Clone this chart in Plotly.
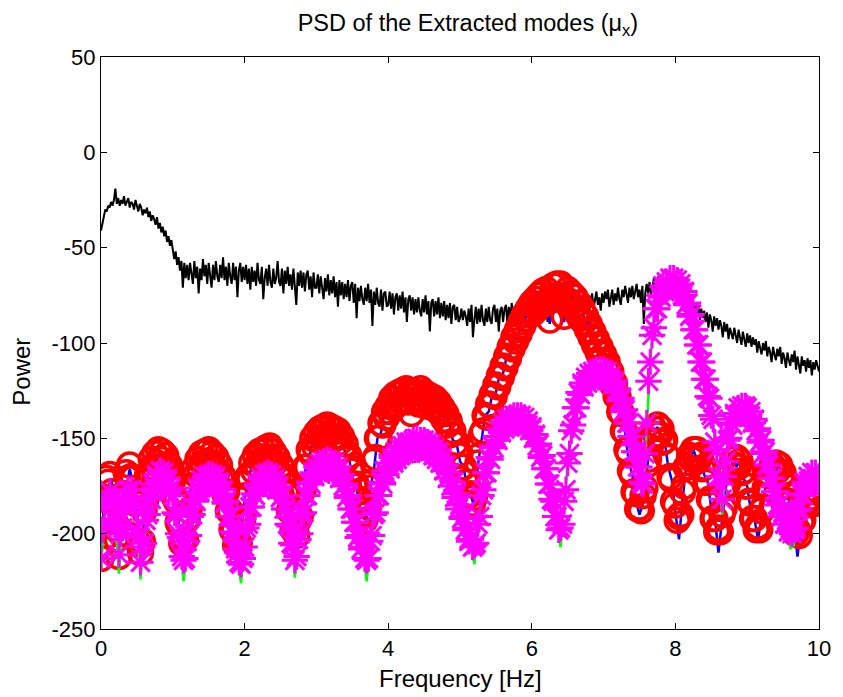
import plotly.graph_objects as go

# PSD of the measured signal (dB), one value every 0.02 Hz from 0 to 10 Hz
psd_signal = [
    -41, -37, -33, -30, -31, -28, -29, -26, -28, -25, -19, -27, -24, -28, -25, -27, -23, -28, -26, -24,
    -29, -26, -27, -30, -25, -28, -31, -27, -29, -33, -30, -32, -29, -34, -31, -36, -33, -35, -38, -34,
    -40, -37, -42, -39, -44, -41, -47, -44, -49, -46,
    -50, -56, -52, -59, -55, -62, -57, -71, -58, -66, -59, -67, -58, -64, -69, -57, -66, -60, -74, -61,
    -67, -56, -65, -59, -69, -58, -64, -71, -59, -67, -57, -65, -68, -59, -66, -55, -67, -60, -70, -58,
    -65, -69, -58, -67, -60, -76, -62, -58, -68, -60,
    -67, -59, -69, -61, -72, -60, -68, -62, -70, -58, -67, -69, -60, -77, -66, -61, -70, -59, -68, -71,
    -61, -69, -66, -57, -68, -70, -61, -74, -62, -69, -60, -70, -64, -72, -61, -69, -80, -63, -70, -62,
    -71, -63, -73, -64, -62, -72, -65, -76, -63, -71,
    -71, -64, -74, -65, -72, -77, -66, -73, -64, -75, -67, -74, -65, -76, -68, -81, -67, -75, -68, -77,
    -69, -76, -67, -78, -70, -68, -79, -69, -87, -71, -78, -70, -77, -80, -71, -78, -69, -79, -72, -91,
    -73, -80, -71, -79, -81, -72, -83, -74, -73, -81,
    -80, -73, -82, -74, -85, -76, -74, -83, -75, -82, -73, -84, -76, -89, -77, -75, -83, -76, -85, -77,
    -84, -76, -83, -86, -77, -84, -75, -85, -78, -94, -79, -77, -86, -78, -85, -76, -87, -79, -86, -78,
    -88, -80, -87, -79, -90, -81, -80, -88, -81, -89,
    -87, -82, -88, -83, -86, -91, -82, -89, -80, -97, -88, -81, -90, -82, -89, -80, -88, -91, -82, -89,
    -81, -88, -90, -82, -80, -89, -82, -94, -83, -81, -89, -82, -80, -90, -81, -88, -79, -87, -89, -80,
    -88, -81, -79, -87, -89, -80, -87, -78, -86, -88,
    -80, -86, -81, -84, -88, -79, -83, -86, -78, -84, -81, -89, -79, -83, -77, -85, -82, -76, -84, -80,
    -86, -78, -82, -77, -80, -87, -78, -82, -75, -81, -84, -77, -81, -75, -83, -79, -74, -82, -78, -88,
    -75, -80, -74, -82, -77, -73, -80, -76, -83, -74,
    -79, -73, -77, -72, -81, -75, -72, -80, -74, -78, -71, -77, -80, -72, -76, -70, -75, -79, -71, -76,
    -70, -77, -73, -69, -76, -72, -79, -70, -90, -74, -69, -74, -68, -75, -71, -66, -74, -70, -65, -73,
    -69, -64, -72, -68, -73, -66, -70, -65, -72, -68,
    -69, -74, -70, -76, -72, -78, -73, -79, -74, -81, -76, -82, -77, -85, -79, -84, -80, -88, -82, -87,
    -83, -89, -84, -92, -85, -88, -94, -86, -91, -87, -93, -88, -91, -97, -89, -94, -90, -98, -92, -95,
    -98, -92, -96, -100, -93, -97, -101, -94, -98, -102,
    -95, -100, -96, -102, -97, -101, -98, -105, -99, -103, -106, -100, -104, -99, -107, -102, -105, -110, -102, -106,
    -109, -103, -107, -102, -111, -105, -108, -113, -105, -109, -112, -106, -110, -104, -114, -107, -111, -116, -107, -112,
    -109, -115, -108, -113, -109, -117, -110, -114, -109, -113, -115,
]

# Mode 1 PSD (dB), one value every 0.025 Hz, drawn as circles
psd_mode1 = [
    -213, -194, -182, -171, -173, -169, -178, -182, -197, -203, -212, -200, -183, -179, -168, -171, -164, -170, -171, -184,
    -189, -205, -210, -204, -188, -182, -169, -170, -161, -165, -158, -163, -156, -161, -157, -164, -159, -166, -164, -173,
    -172, -181, -183, -194, -196, -205, -204, -203, -192, -188, -175, -175, -166, -169, -161, -166, -158, -163, -157, -162,
    -156, -163, -158, -165, -160, -167, -164, -172, -170, -179, -178, -188, -188, -198, -199, -206, -205, -205, -195, -192,
    -182, -180, -170, -171, -163, -167, -159, -164, -157, -162, -156, -161, -155, -160, -154, -162, -157, -163, -160, -168,
    -164, -172, -170, -179, -178, -188, -188, -198, -197, -201, -193, -191, -178, -176, -165, -165, -156, -158, -150, -154,
    -147, -151, -145, -150, -144, -149, -143, -148, -144, -150, -145, -149, -146, -152, -149, -156, -153, -161, -159, -167,
    -166, -175, -174, -183, -182, -190, -188, -193, -190, -186, -176, -173, -162, -160, -150, -150, -142, -143, -136, -139,
    -133, -136, -129, -134, -127, -132, -126, -131, -125, -130, -124, -131, -126, -137, -125, -130, -126, -132, -124, -130,
    -126, -133, -127, -131, -128, -134, -129, -135, -131, -137, -134, -140, -137, -143, -141, -148, -146, -153, -152, -159,
    -158, -165, -165, -173, -173, -180, -179, -184, -181, -175, -163, -159, -148, -146, -138, -139, -132, -133, -127, -128,
    -122, -123, -117, -118, -112, -113, -107, -108, -102, -103, -97, -99, -93, -95, -89, -91, -85, -87, -82, -84,
    -79, -84, -77, -82, -75, -80, -73, -79, -72, -78, -88, -76, -70, -77, -69, -75, -69, -76, -86, -77,
    -72, -79, -74, -81, -76, -84, -79, -87, -82, -89, -86, -93, -90, -97, -94, -101, -98, -105, -102, -109,
    -106, -112, -110, -116, -115, -122, -121, -128, -128, -136, -137, -146, -147, -156, -158, -167, -169, -178, -179, -187,
    -186, -188, -180, -176, -164, -161, -151, -152, -145, -148, -143, -148, -145, -152, -151, -159, -160, -170, -172, -183,
    -185, -193, -191, -190, -178, -175, -165, -165, -159, -161, -156, -160, -156, -161, -159, -166, -165, -173, -173, -182,
    -183, -192, -192, -199, -197, -199, -190, -187, -176, -174, -166, -167, -161, -164, -160, -165, -162, -168, -167, -175,
    -175, -183, -184, -192, -192, -198, -196, -198, -188, -186, -176, -176, -168, -170, -164, -167, -163, -167, -164, -170,
    -168, -175, -175, -183, -184, -192, -193, -200, -198, -201, -194, -193, -184, -185, -178, -181, -176, -181, -178, -184,
    -183,
]

# Mode 2 PSD (dB), one value every 0.025 Hz, drawn as asterisks
psd_mode2 = [
    -213, -198, -194, -183, -184, -178, -183, -182, -193, -197, -211, -200, -197, -186, -185, -177, -181, -177, -184, -185,
    -198, -202, -215, -207, -205, -193, -190, -181, -182, -174, -176, -169, -173, -167, -172, -168, -174, -171, -178, -176,
    -180, -189, -190, -200, -202, -212, -214, -213, -204, -201, -191, -190, -182, -183, -176, -178, -172, -175, -170, -174,
    -169, -173, -169, -174, -170, -176, -173, -179, -177, -184, -183, -191, -191, -199, -200, -208, -210, -215, -216, -213,
    -207, -197, -195, -186, -186, -179, -180, -174, -176, -171, -174, -169, -173, -168, -173, -169, -174, -171, -177, -175,
    -181, -180, -187, -187, -195, -196, -205, -206, -214, -212, -203, -200, -190, -189, -180, -180, -173, -174, -168, -170,
    -165, -168, -163, -167, -162, -166, -161, -167, -162, -166, -163, -168, -165, -171, -169, -175, -174, -181, -180, -187,
    -187, -194, -194, -202, -201, -208, -207, -213, -214, -213, -204, -201, -190, -189, -180, -180, -173, -174, -167, -169,
    -163, -166, -160, -163, -157, -161, -155, -159, -154, -158, -152, -157, -152, -156, -151, -156, -150, -156, -151, -155,
    -151, -157, -152, -157, -153, -159, -155, -161, -157, -163, -160, -167, -164, -171, -168, -175, -173, -181, -179, -187,
    -185, -192, -191, -198, -197, -204, -203, -207, -206, -205, -195, -191, -180, -177, -168, -168, -160, -161, -154, -155,
    -149, -151, -145, -147, -142, -145, -140, -143, -139, -142, -138, -142, -138, -142, -138, -143, -139, -144, -141, -146,
    -144, -150, -148, -154, -153, -160, -159, -166, -166, -174, -174, -182, -183, -191, -191, -198, -197, -195, -183, -177,
    -163, -158, -146, -143, -134, -134, -126, -127, -121, -123, -118, -121, -116, -119, -115, -118, -114, -118, -114, -118,
    -114, -118, -115, -120, -117, -122, -120, -126, -124, -130, -129, -136, -135, -142, -142, -149, -149, -157, -157, -165,
    -165, -173, -174, -158, -142, -120, -110, -96, -92, -82, -82, -75, -76, -70, -73, -68, -71, -66, -70, -66,
    -70, -67, -72, -69, -75, -73, -80, -79, -86, -85, -93, -93, -101, -101, -110, -110, -119, -119, -128, -129,
    -138, -140, -152, -156, -170, -174, -182, -170, -162, -151, -150, -142, -143, -137, -139, -134, -137, -133, -137, -133,
    -134, -139, -136, -142, -140, -146, -145, -152, -151, -158, -157, -164, -164, -171, -171, -178, -178, -185, -184, -191,
    -189, -195, -193, -199, -197, -200, -198, -197, -188, -187, -179, -180, -173, -175, -170, -173, -168, -172, -168, -173,
    -170,
]

# Line traces under the markers, one value every 0.05 Hz
line_mode1 = [
    -213, -176, -175, -171, -196, -214, -186, -177, -166, -174, -187, -215, -194, -170, -167, -158, -165, -157, -163, -164,
    -178, -183, -200, -209, -197, -175, -171, -162, -166, -157, -161, -158, -168, -164, -170, -183, -188, -202, -209, -199,
    -181, -175, -163, -166, -157, -160, -156, -164, -158, -161, -169, -170, -182, -188, -204, -194, -185, -166, -161, -150,
    -155, -145, -149, -144, -151, -145, -150, -148, -158, -159, -171, -174, -186, -189, -194, -176, -167, -150, -147, -136,
    -138, -129, -135, -126, -130, -125, -133, -126, -131, -125, -137, -127, -132, -129, -136, -134, -142, -141, -151, -152,
    -162, -165, -177, -180, -186, -164, -152, -138, -136, -127, -126, -117, -116, -107, -106, -97, -98, -89, -90, -82,
    -84, -77, -80, -73, -77, -90, -70, -74, -69, -89, -72, -79, -76, -84, -82, -90, -89, -98, -97, -106,
    -105, -114, -115, -125, -128, -141, -147, -162, -169, -183, -190, -184, -168, -151, -149, -144, -150, -151, -165, -172,
    -189, -203, -182, -165, -163, -156, -161, -159, -169, -173, -187, -192, -210, -194, -176, -170, -161, -165, -162, -171,
    -175, -188, -192, -203, -192, -176, -172, -164, -168, -164, -172, -175, -188, -193, -212, -197, -184, -182, -176, -182,
    -183,
]
line_mode2 = [
    -220, -189, -184, -178, -193, -221, -192, -185, -176, -184, -193, -224, -205, -186, -182, -171, -176, -167, -173, -172,
    -185, -190, -206, -225, -208, -191, -187, -176, -179, -170, -174, -169, -178, -173, -182, -183, -196, -200, -212, -226,
    -207, -191, -187, -176, -178, -170, -175, -169, -177, -173, -182, -183, -196, -201, -223, -207, -190, -185, -173, -174,
    -165, -169, -162, -168, -162, -170, -165, -174, -174, -185, -187, -199, -201, -210, -225, -207, -190, -185, -173, -172,
    -163, -166, -157, -161, -154, -158, -152, -157, -151, -156, -151, -158, -153, -160, -157, -165, -164, -173, -173, -184,
    -185, -196, -197, -205, -216, -199, -180, -173, -160, -159, -149, -150, -142, -146, -139, -144, -138, -143, -139, -146,
    -144, -153, -153, -164, -166, -179, -183, -195, -207, -187, -163, -151, -134, -131, -121, -124, -116, -120, -114, -119,
    -114, -120, -117, -125, -124, -134, -135, -147, -149, -162, -165, -180, -142, -110, -88, -83, -72, -74, -67, -71,
    -66, -73, -71, -81, -82, -94, -97, -111, -115, -129, -134, -152, -166, -190, -162, -146, -144, -135, -138, -133,
    -139, -136, -145, -145, -156, -157, -169, -171, -183, -184, -193, -194, -208, -206, -192, -179, -177, -170, -173, -168,
    -171,
]

# Frequency bins (Hz) for each series
freq_signal = [round(0.02 * i, 3) for i in range(len(psd_signal))]
freq_marks = [round(0.025 * i, 3) for i in range(len(psd_mode1))]
freq_lines = [round(0.05 * i, 3) for i in range(len(line_mode1))]

x_ticks = [0, 2, 4, 6, 8, 10]
y_ticks = [-250, -200, -150, -100, -50, 0, 50]

FONT = "Liberation Sans, Arial, sans-serif"

fig = go.Figure()

fig.add_trace(go.Scatter(
    x=freq_signal, y=psd_signal, mode="lines",
    line=dict(color="black", width=2), hoverinfo="skip",
))
fig.add_trace(go.Scatter(
    x=freq_lines, y=line_mode1, mode="lines",
    line=dict(color="#0000FF", width=2.5), hoverinfo="skip",
))
fig.add_trace(go.Scatter(
    x=freq_marks, y=psd_mode1, mode="markers",
    marker=dict(symbol="circle-open", size=24, color="#FF0000",
                line=dict(width=3.5, color="#FF0000")),
    hoverinfo="skip",
))
fig.add_trace(go.Scatter(
    x=freq_lines, y=line_mode2, mode="lines",
    line=dict(color="#00FF00", width=2.5), hoverinfo="skip",
))
fig.add_trace(go.Scatter(
    x=freq_marks[:len(psd_mode2)], y=psd_mode2, mode="markers",
    marker=dict(symbol="asterisk-open", size=22, color="#FF00FF",
                line=dict(width=3, color="#FF00FF")),
    hoverinfo="skip",
))

axis_common = dict(
    showline=True, linecolor="black", linewidth=1, mirror="ticks",
    ticks="inside", ticklen=6, tickwidth=1, tickcolor="black",
    showgrid=False, zeroline=False,
    tickfont=dict(family=FONT, size=22, color="black"),
)

fig.update_layout(
    width=843, height=697,
    margin=dict(l=101, r=14, t=57, b=68),
    paper_bgcolor="white", plot_bgcolor="white",
    showlegend=False,
    title=dict(
        text="PSD of the Extracted modes (μ<sub>x</sub>)",
        x=0.511, xref="paper", xanchor="center",
        y=1 - 23 / 697, yref="container", yanchor="middle",
        font=dict(family=FONT, size=23.5, color="black"),
    ),
    xaxis=dict(range=[0, 10], tickvals=x_ticks, ticktext=[str(v) for v in x_ticks], **axis_common),
    yaxis=dict(range=[-250, 50], tickvals=y_ticks, ticktext=[str(v) for v in y_ticks], **axis_common),
    annotations=[
        dict(text="Frequency [Hz]", x=0.5, xref="paper", y=-49 / 572, yref="paper",
             xanchor="center", yanchor="middle", showarrow=False,
             font=dict(family=FONT, size=24, color="black")),
        dict(text="Power", x=-81 / 728, xref="paper", y=0.45, yref="paper",
             xanchor="center", yanchor="middle", textangle=-90, showarrow=False,
             font=dict(family=FONT, size=24, color="black")),
    ],
)

fig.write_html("out.html")
